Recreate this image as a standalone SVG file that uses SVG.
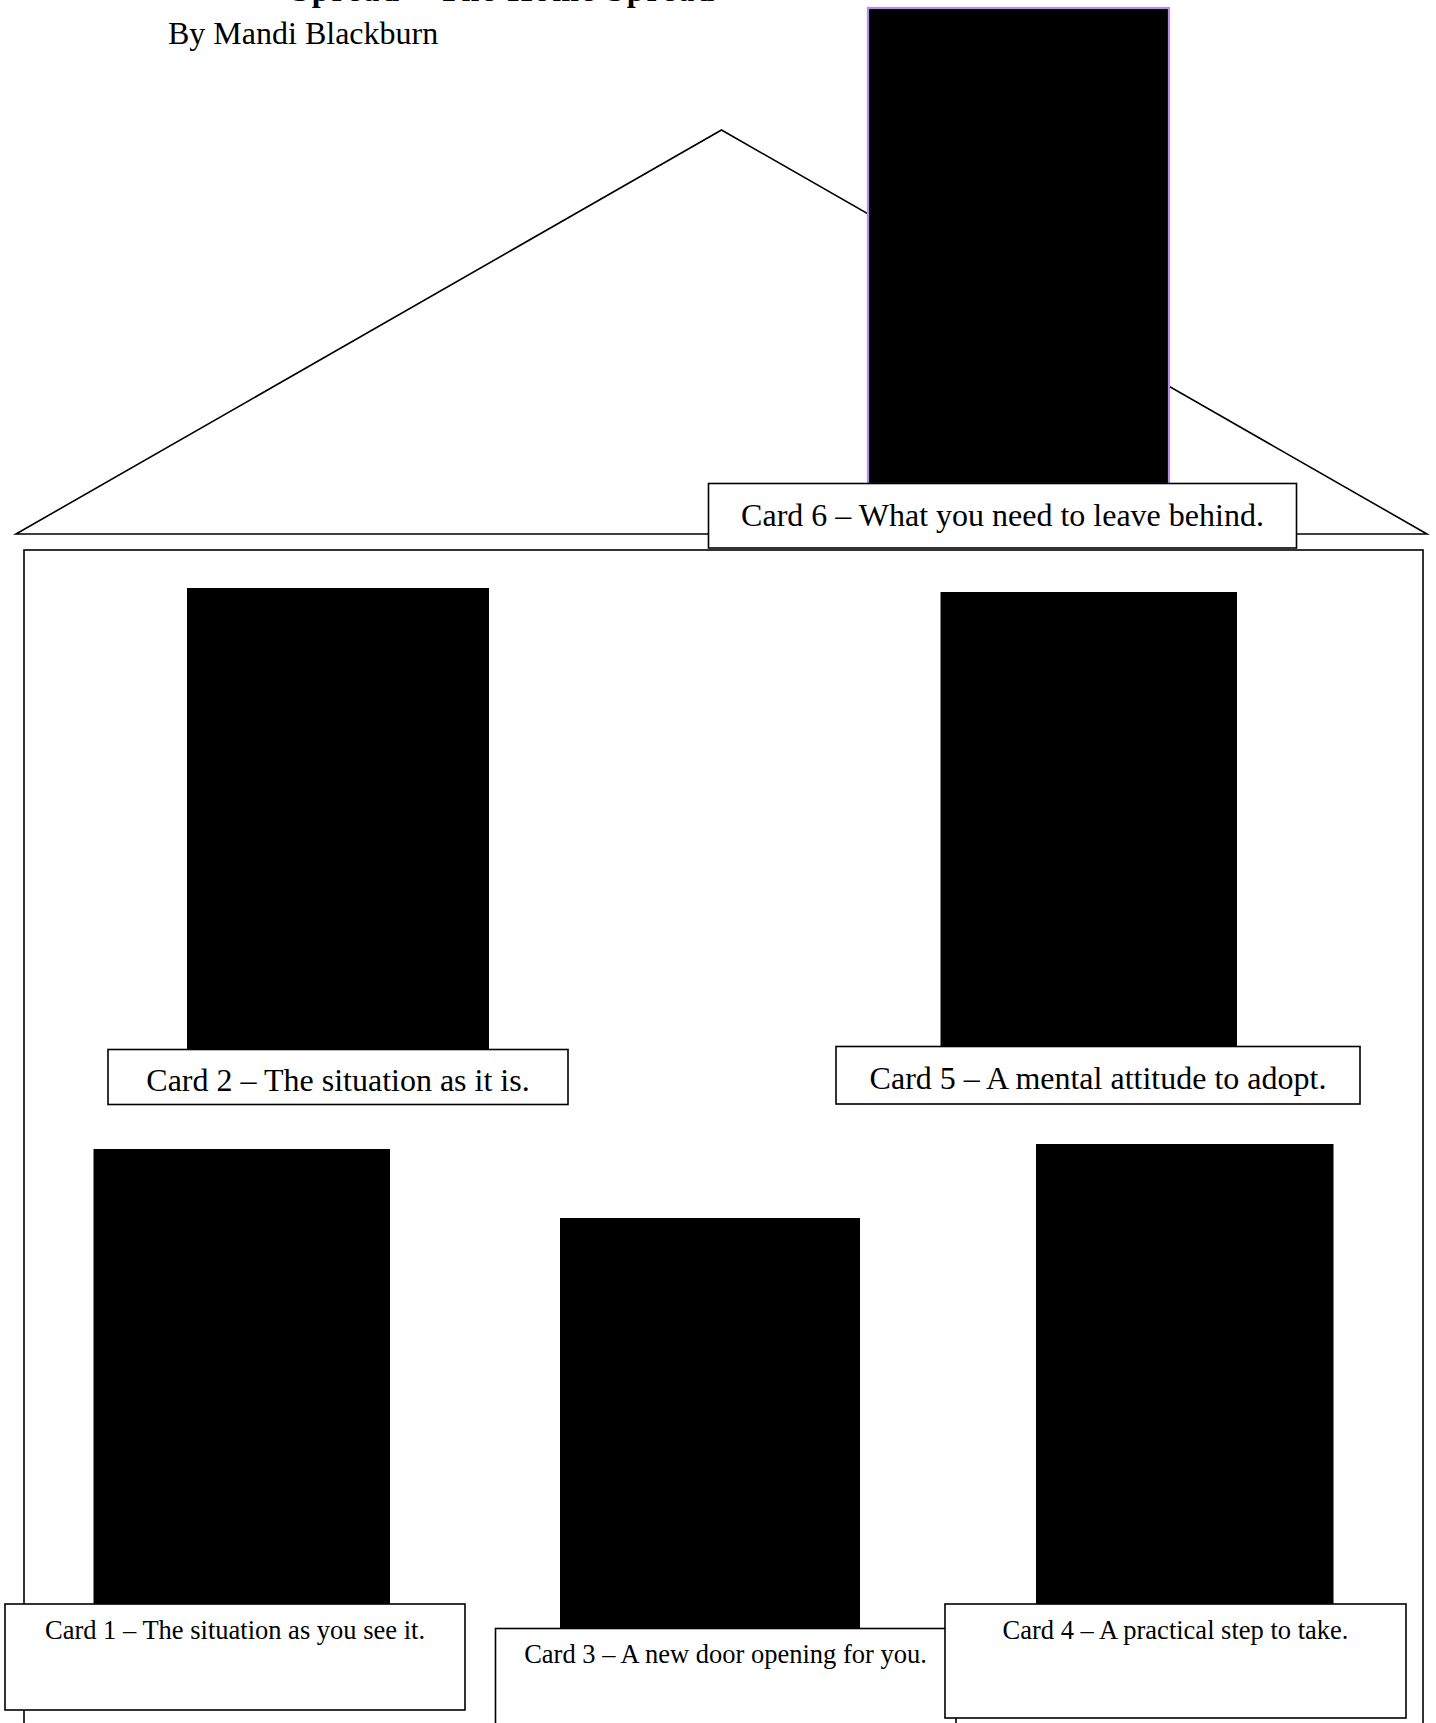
<svg xmlns="http://www.w3.org/2000/svg" width="1436" height="1723" viewBox="0 0 1436 1723">
<style>
.card{fill:#000}
.lbl{fill:#fff;stroke:#000;stroke-width:1.6}
.ln{fill:none;stroke:#000;stroke-width:1.6}
.t{font-family:"Liberation Serif","Times New Roman",serif;fill:#000}
.big{font-size:32px}
.sm{font-size:26.5px}
</style>
<rect width="1436" height="1723" fill="#fff"/>
<g id="title">
<text class="t" x="292" y="0.5" font-size="32" font-weight="bold" textLength="422" lengthAdjust="spacing">Spread – The Home Spread</text>
<text class="t big" x="168" y="44">By Mandi Blackburn</text>
</g>
<g id="house">
<rect class="ln" x="24" y="550" width="1399" height="1200"/>
<polygon class="ln" points="16,534 721.5,130 1427,534"/>
</g>
<g id="card6">
<rect class="card" x="868" y="8" width="301" height="476" stroke="#b68ee8" stroke-width="2.2"/>
<rect class="lbl" x="708.5" y="483.5" width="588" height="64.5"/>
<text class="t big" x="1002.5" y="526" text-anchor="middle">Card 6 – What you need to leave behind.</text>
</g>
<g id="card2">
<rect class="card" x="187" y="588" width="302" height="461"/>
<rect class="lbl" x="108" y="1049.5" width="460" height="55"/>
<text class="t big" x="338" y="1091" text-anchor="middle">Card 2 – The situation as it is.</text>
</g>
<g id="card5">
<rect class="card" x="940.5" y="592" width="296.5" height="454"/>
<rect class="lbl" x="836" y="1046.5" width="524" height="57.5"/>
<text class="t big" x="1098" y="1089" text-anchor="middle">Card 5 – A mental attitude to adopt.</text>
</g>
<g id="card1">
<rect class="card" x="93.5" y="1149" width="296.5" height="455"/>
<rect class="lbl" x="5" y="1604" width="460" height="106"/>
<text class="t sm" x="235" y="1639" text-anchor="middle">Card 1 – The situation as you see it.</text>
</g>
<g id="card3">
<rect class="card" x="560" y="1218" width="300" height="410"/>
<rect class="lbl" x="495.5" y="1628.5" width="460.5" height="110"/>
<text class="t sm" x="725.5" y="1663" text-anchor="middle">Card 3 – A new door opening for you.</text>
</g>
<g id="card4">
<rect class="card" x="1036" y="1144" width="297.5" height="460"/>
<rect class="lbl" x="945" y="1604" width="461" height="114"/>
<text class="t sm" x="1175.5" y="1639" text-anchor="middle">Card 4 – A practical step to take.</text>
</g>
</svg>
